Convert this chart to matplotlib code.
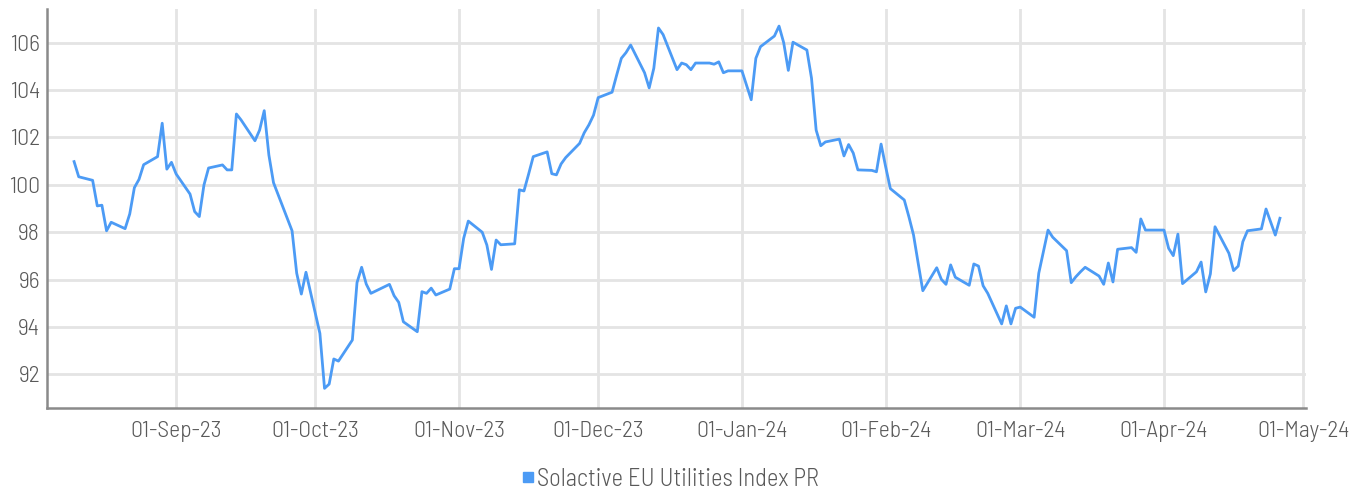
import pandas as pd
import matplotlib
matplotlib.use('Agg')
import matplotlib.pyplot as plt
import matplotlib.dates as mdates
from matplotlib.lines import Line2D

plt.rcParams['font.family'] = ['Barlow Semi Condensed', 'Liberation Sans Narrow', 'DejaVu Sans']
plt.rcParams['font.weight'] = 300

# index levels (date, value)
dates = [
    '2023-08-10', '2023-08-11', '2023-08-14', '2023-08-15', '2023-08-16', '2023-08-17', '2023-08-18',
    '2023-08-21', '2023-08-22', '2023-08-23', '2023-08-24', '2023-08-25',
    '2023-08-28', '2023-08-29', '2023-08-30', '2023-08-31', '2023-09-01',
    '2023-09-04', '2023-09-05', '2023-09-06', '2023-09-07', '2023-09-08',
    '2023-09-11', '2023-09-12', '2023-09-13', '2023-09-14', '2023-09-15',
    '2023-09-18', '2023-09-19', '2023-09-20', '2023-09-21', '2023-09-22',
    '2023-09-26', '2023-09-27', '2023-09-28', '2023-09-29',
    '2023-10-02', '2023-10-03', '2023-10-04', '2023-10-05', '2023-10-06',
    '2023-10-09', '2023-10-10', '2023-10-11', '2023-10-12', '2023-10-13',
    '2023-10-17', '2023-10-18', '2023-10-19', '2023-10-20',
    '2023-10-23', '2023-10-24', '2023-10-25', '2023-10-26', '2023-10-27',
    '2023-10-30', '2023-10-31', '2023-11-01', '2023-11-02', '2023-11-03',
    '2023-11-06', '2023-11-07', '2023-11-08', '2023-11-09', '2023-11-10',
    '2023-11-13', '2023-11-14', '2023-11-15', '2023-11-16', '2023-11-17',
    '2023-11-20', '2023-11-21', '2023-11-22', '2023-11-23', '2023-11-24',
    '2023-11-27', '2023-11-28', '2023-11-29', '2023-11-30', '2023-12-01',
    '2023-12-04', '2023-12-05', '2023-12-06', '2023-12-07', '2023-12-08',
    '2023-12-11', '2023-12-12', '2023-12-13', '2023-12-14', '2023-12-15',
    '2023-12-18', '2023-12-19', '2023-12-20', '2023-12-21', '2023-12-22',
    '2023-12-25', '2023-12-26', '2023-12-27', '2023-12-28', '2023-12-29',
    '2024-01-01', '2024-01-03', '2024-01-04', '2024-01-05',
    '2024-01-08', '2024-01-09', '2024-01-10', '2024-01-11', '2024-01-12',
    '2024-01-15', '2024-01-16', '2024-01-17', '2024-01-18', '2024-01-19',
    '2024-01-22', '2024-01-23', '2024-01-24', '2024-01-25', '2024-01-26',
    '2024-01-29', '2024-01-30', '2024-01-31', '2024-02-01', '2024-02-02',
    '2024-02-05', '2024-02-06', '2024-02-07', '2024-02-08', '2024-02-09',
    '2024-02-12', '2024-02-13', '2024-02-14', '2024-02-15', '2024-02-16',
    '2024-02-19', '2024-02-20', '2024-02-21', '2024-02-22', '2024-02-23',
    '2024-02-26', '2024-02-27', '2024-02-28', '2024-02-29', '2024-03-01',
    '2024-03-04', '2024-03-05', '2024-03-06', '2024-03-07', '2024-03-08',
    '2024-03-11', '2024-03-12', '2024-03-13', '2024-03-14', '2024-03-15',
    '2024-03-18', '2024-03-19', '2024-03-20', '2024-03-21', '2024-03-22',
    '2024-03-25', '2024-03-26', '2024-03-27', '2024-03-28',
    '2024-04-01', '2024-04-02', '2024-04-03', '2024-04-04', '2024-04-05',
    '2024-04-08', '2024-04-09', '2024-04-10', '2024-04-11', '2024-04-12',
    '2024-04-15', '2024-04-16', '2024-04-17', '2024-04-18', '2024-04-19',
    '2024-04-22', '2024-04-23', '2024-04-25', '2024-04-26',
]
values = [
    100.98, 100.34, 100.19, 99.11, 99.14, 98.06, 98.42,
    98.15, 98.77, 99.88, 100.23, 100.85,
    101.19, 102.60, 100.66, 100.95, 100.46,
    99.61, 98.87, 98.66, 99.99, 100.71,
    100.84, 100.63, 100.63, 102.99, 102.74,
    101.86, 102.31, 103.13, 101.26, 100.09,
    98.06, 96.27, 95.39, 96.31,
    93.73, 91.41, 91.59, 92.65, 92.56,
    93.45, 95.87, 96.52, 95.81, 95.42,
    95.80, 95.32, 95.04, 94.22,
    93.80, 95.49, 95.42, 95.64, 95.35,
    95.60, 96.46, 96.46, 97.74, 98.47,
    98.00, 97.46, 96.43, 97.67, 97.47,
    97.51, 99.79, 99.74, 100.45, 101.19,
    101.39, 100.47, 100.42, 100.88, 101.15,
    101.75, 102.20, 102.53, 102.94, 103.68,
    103.91, 104.64, 105.34, 105.58, 105.90,
    104.73, 104.09, 104.92, 106.62, 106.34,
    104.86, 105.14, 105.07, 104.86, 105.14,
    105.14, 105.09, 105.19, 104.73, 104.81,
    104.81, 103.59, 105.34, 105.83,
    106.28, 106.70, 106.00, 104.83, 106.02,
    105.69, 104.50, 102.31, 101.65, 101.81,
    101.93, 101.22, 101.70, 101.34, 100.63,
    100.61, 100.55, 101.72, 100.75, 99.84,
    99.36, 98.65, 97.88, 96.69, 95.53,
    96.50, 96.01, 95.80, 96.62, 96.10,
    95.76, 96.66, 96.57, 95.74, 95.42,
    94.13, 94.89, 94.13, 94.79, 94.84,
    94.41, 96.27, 97.18, 98.09, 97.79,
    97.22, 95.87, 96.12, 96.33, 96.52,
    96.15, 95.80, 96.70, 95.90, 97.28,
    97.35, 97.15, 98.56, 98.09,
    98.09, 97.32, 97.01, 97.92, 95.83,
    96.33, 96.74, 95.48, 96.24, 98.23,
    97.11, 96.38, 96.57, 97.60, 98.06,
    98.14, 98.98, 97.88, 98.59,
]
series_name = 'Solactive EU Utilities Index PR'
y_ticks = [92, 94, 96, 98, 100, 102, 104, 106]

df = pd.DataFrame({'date': pd.to_datetime(dates), 'value': values})

line_color = '#4C9BF5'
grid_color = '#E4E4E4'
axis_color = '#8A8A8A'
text_color = '#595959'
fsize = 17

fig = plt.figure(figsize=(13.67, 4.90), dpi=100)
ax = fig.add_axes([0.0344, 0.1673, 0.9210, 0.8143])

ax.plot(df['date'], df['value'], color=line_color, lw=2.0, zorder=3)

ax.set_ylim(90.58, 107.42)
ax.set_yticks(y_ticks)
ax.set_xlim(pd.Timestamp('2023-08-04 04:00'), pd.Timestamp('2024-05-01 15:00'))
ax.xaxis.set_major_locator(mdates.MonthLocator(bymonthday=1))
ax.xaxis.set_major_formatter(mdates.DateFormatter('%d-%b-%y'))

ax.grid(True, color=grid_color, lw=2.0, zorder=0)
ax.set_axisbelow(True)
for s in ['top', 'right']:
    ax.spines[s].set_visible(False)
for s in ['left', 'bottom']:
    ax.spines[s].set_color(axis_color)
    ax.spines[s].set_linewidth(1.8)

ax.tick_params(axis='both', length=0, labelsize=fsize, colors=text_color)
ax.tick_params(axis='y', pad=5)
ax.tick_params(axis='x', pad=9)

handle = Line2D([], [], marker='s', ls='none', color=line_color, markersize=7.5)
fig.legend([handle], [series_name], loc='center', bbox_to_anchor=(0.4883, 0.022),
           frameon=False, fontsize=17.7, labelcolor=text_color,
           handletextpad=-0.15, handlelength=1.0, borderaxespad=0)

fig.savefig('out.png', dpi=100)
